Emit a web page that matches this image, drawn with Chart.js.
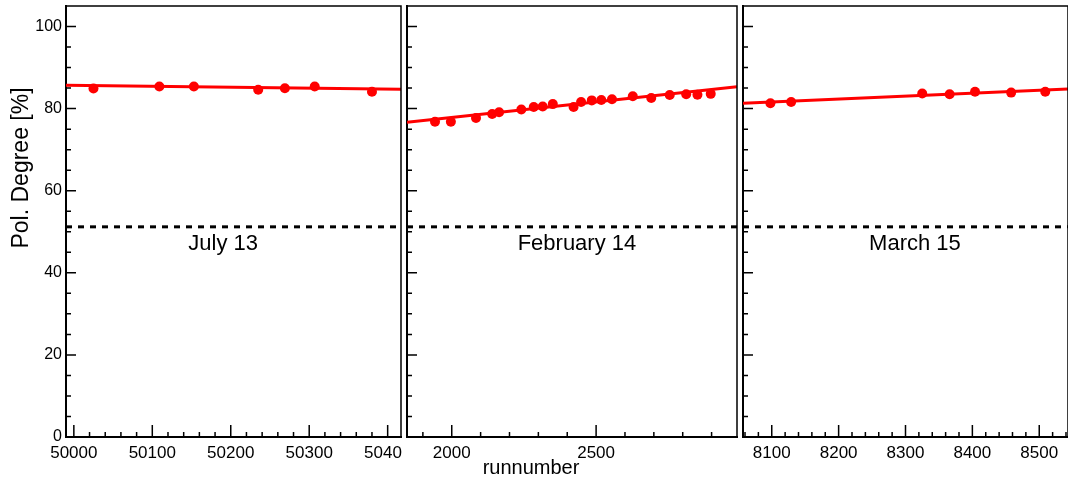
<!DOCTYPE html>
<html>
<head>
<meta charset="utf-8">
<script src="https://cdn.jsdelivr.net/npm/chart.js@4.4.0/dist/chart.umd.min.js"></script>
<style>
  body { margin: 0; background: #fff; }
  canvas { position: absolute; top: 0; }
</style>
</head>
<body>
<canvas id="c1" width="402" height="480" style="left:0px"></canvas>
<canvas id="c2" width="336" height="480" style="left:403px"></canvas>
<canvas id="c3" width="329" height="480" style="left:739px"></canvas>
<script>
// July 13
const runsJul = [50025, 50109, 50153, 50235, 50269, 50307, 50380];
const polJul = [84.9, 85.4, 85.4, 84.6, 84.95, 85.4, 84.1];
const fitRunJul = [49990, 50417];
const fitPolJul = [85.7, 84.7];

// February 14
const runsFeb = [1942, 1997, 2084, 2140, 2164, 2241, 2284, 2315, 2350, 2422,
                 2448, 2485, 2518, 2555, 2627, 2691, 2755, 2812, 2851, 2897];
const polFeb = [76.8, 76.8, 77.7, 78.7, 79.1, 79.8, 80.4, 80.5, 81.1, 80.4,
                81.6, 82.0, 82.1, 82.3, 83.0, 82.6, 83.3, 83.5, 83.4, 83.6];
const fitRunFeb = [1845, 2988];
const fitPolFeb = [76.7, 85.3];

// March 15
const runsMar = [8098, 8129, 8325, 8366, 8404, 8458, 8509];
const polMar = [81.3, 81.6, 83.7, 83.5, 84.1, 83.9, 84.1];
const fitRunMar = [8057, 8543];
const fitPolMar = [81.3, 84.8];

// threshold line and axes
const cutLevel = 51.2;
const yRange = [0, 105];
const yStep = [5, 20];       // minor, major
const xStepJul = [20, 100];
const xStepFeb = [100, 500];
const xStepMar = [20, 100];
const panelNames = ['July 13', 'February 14', 'March 15'];
const yTitle = 'Pol. Degree [%]';
const xTitle = 'runnumber';

const FONT = '"Liberation Sans", Arial, sans-serif';

function pts(xs, ys) {
  return xs.map((x, i) => ({x: x, y: ys[i]}));
}

// draws top/right frame, inward ticks and the texts
const frame = {
  id: 'frame',
  afterDraw(chart, args, opts) {
    const ctx = chart.ctx, a = chart.chartArea;
    const xs = chart.scales.x, ys = chart.scales.y;
    ctx.save();
    ctx.strokeStyle = '#000';
    ctx.lineWidth = 1.5;
    ctx.beginPath();
    ctx.moveTo(a.left, a.top);
    ctx.lineTo(a.right, a.top);
    ctx.lineTo(a.right, a.bottom);
    ctx.stroke();

    ctx.beginPath();
    xs.ticks.forEach(t => {
      const px = xs.getPixelForValue(t.value);
      const len = t.value % opts.xMajor === 0 ? 12 : 5;
      ctx.moveTo(px, a.bottom);
      ctx.lineTo(px, a.bottom - len);
    });
    ys.ticks.forEach(t => {
      if (t.value >= yRange[1]) return;
      const py = ys.getPixelForValue(t.value);
      const len = t.value % yStep[1] === 0 ? 10 : 5;
      ctx.moveTo(a.left, py);
      ctx.lineTo(a.left + len, py);
    });
    ctx.stroke();

    ctx.fillStyle = '#000';
    ctx.font = '22px ' + FONT;
    ctx.textAlign = 'center';
    ctx.textBaseline = 'alphabetic';
    ctx.fillText(opts.name, a.left + opts.namePos * (a.right - a.left), 250);

    if (opts.yTitle) {
      ctx.save();
      ctx.font = '23px ' + FONT;
      ctx.translate(28, 168);
      ctx.rotate(-Math.PI / 2);
      ctx.fillText(opts.yTitle, 0, 0);
      ctx.restore();
    }
    if (opts.xTitle) {
      ctx.font = '20px ' + FONT;
      ctx.fillText(opts.xTitle, opts.xTitleX, 474);
    }
    ctx.restore();
  }
};

function makePanel(id, runs, pol, fitRun, fitPol, xStep, showY, pad, yWidth, extra) {
  const xMin = fitRun[0], xMax = fitRun[1];
  return new Chart(document.getElementById(id), {
    type: 'scatter',
    data: {
      datasets: [{
        type: 'line',
        data: pts(fitRun, [cutLevel, cutLevel]),
        borderColor: '#000',
        borderWidth: 3,
        borderDash: [6, 6],
        pointRadius: 0,
        order: 3
      }, {
        type: 'line',
        data: pts(fitRun, fitPol),
        borderColor: '#ff0000',
        borderWidth: 3,
        pointRadius: 0,
        order: 2
      }, {
        data: pts(runs, pol),
        backgroundColor: '#ff0000',
        borderWidth: 0,
        pointRadius: 5,
        order: 1
      }]
    },
    options: {
      responsive: false,
      animation: false,
      devicePixelRatio: 1,
      layout: { padding: pad, autoPadding: false },
      plugins: {
        legend: { display: false },
        tooltip: { enabled: false },
        frame: Object.assign({ xMajor: xStep[1] }, extra)
      },
      scales: {
        x: {
          type: 'linear',
          min: xMin,
          max: xMax,
          grid: { drawOnChartArea: false, drawTicks: false },
          border: { color: '#000', width: 2 },
          ticks: {
            stepSize: xStep[0],
            includeBounds: false,
            autoSkip: false,
            maxRotation: 0,
            minRotation: 0,
            padding: 6,
            color: '#000',
            font: { family: FONT, size: 17 },
            callback: v => (v % xStep[1] === 0 ? String(v) : '')
          },
          afterFit: s => { s.height = 43; s.paddingLeft = 0; s.paddingRight = 0; }
        },
        y: {
          min: yRange[0],
          max: yRange[1],
          grid: { drawOnChartArea: false, drawTicks: false },
          border: { color: '#000', width: 2 },
          ticks: {
            display: showY,
            stepSize: yStep[0],
            autoSkip: false,
            padding: 4,
            color: '#000',
            font: { family: FONT, size: 16 },
            callback: v => (v % yStep[1] === 0 ? String(v) : '')
          },
          afterFit: s => { s.width = yWidth; s.paddingTop = 0; s.paddingBottom = 0; }
        }
      }
    },
    plugins: [frame]
  });
}

makePanel('c1', runsJul, polJul, fitRunJul, fitPolJul, xStepJul, true,
  { top: 6, right: 1, left: 0, bottom: 0 }, 66,
  { name: panelNames[0], namePos: 0.469, yTitle: yTitle });

makePanel('c2', runsFeb, polFeb, fitRunFeb, fitPolFeb, xStepFeb, false,
  { top: 6, right: 2, left: 0, bottom: 0 }, 4,
  { name: panelNames[1], namePos: 0.515, xTitle: xTitle, xTitleX: 128 });

makePanel('c3', runsMar, polMar, fitRunMar, fitPolMar, xStepMar, false,
  { top: 6, right: 0, left: 0, bottom: 0 }, 4,
  { name: panelNames[2], namePos: 0.529 });
</script>
</body>
</html>
